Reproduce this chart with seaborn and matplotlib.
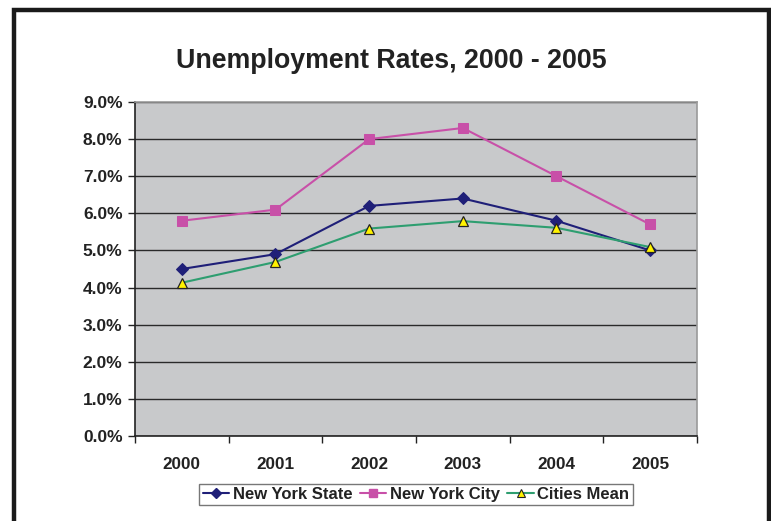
import matplotlib
matplotlib.use("Agg")
import matplotlib.pyplot as plt
import seaborn as sns
import pandas as pd
from matplotlib.patches import Rectangle
from matplotlib.lines import Line2D
from matplotlib.ticker import FixedLocator, PercentFormatter

years = ["2000", "2001", "2002", "2003", "2004", "2005"]
ny_state = [4.5, 4.9, 6.2, 6.4, 5.8, 5.0]
ny_city = [5.8, 6.1, 8.0, 8.3, 7.0, 5.7]
cities_mean = [4.13, 4.69, 5.59, 5.79, 5.61, 5.09]
series_names = ["New York State", "New York City", "Cities Mean"]

sns.set_theme(style="white")
plt.rcParams["font.family"] = ["Liberation Sans", "DejaVu Sans"]
plt.rcParams["font.weight"] = "bold"

rows = []
for name, vals in zip(series_names, [ny_state, ny_city, cities_mean]):
    for i, v in enumerate(vals):
        rows.append({"idx": i, "rate": v, "series": name})
df = pd.DataFrame(rows)

fig = plt.figure(figsize=(7.71, 5.21), dpi=100)
ax = fig.add_axes([135/771, 1-436/521, (697-135)/771, (436-102)/521])
ax.set_facecolor("#C8C9CB")

palette = {"New York State": "#1F1F78", "New York City": "#C850A8", "Cities Mean": "#2E9E70"}
markers = {"New York State": "D", "New York City": "s", "Cities Mean": "^"}

sns.lineplot(data=df, x="idx", y="rate", hue="series", style="series",
             palette=palette, markers=markers, dashes=False, ax=ax,
             linewidth=1.5, markersize=7, legend=False)

for line in ax.get_lines():
    m = line.get_marker()
    if m == "D":
        line.set_markersize(6)
        line.set_markerfacecolor("#1F1F78")
        line.set_markeredgecolor("#1F1F78")
    elif m == "s":
        line.set_markersize(7)
        line.set_markerfacecolor("#C850A8")
        line.set_markeredgecolor("#C850A8")
    elif m == "^":
        line.set_markersize(7)
        line.set_markerfacecolor("#FFF200")
        line.set_markeredgecolor("#222222")
        line.set_markeredgewidth(0.9)

ax.set_xlim(-0.5, 5.5)
ax.set_ylim(0, 9)
ax.set_yticks(range(0, 10))
ax.yaxis.set_major_formatter(PercentFormatter(decimals=1))
ax.yaxis.grid(True, color="#2a2a2a", linewidth=1.0)
ax.set_axisbelow(True)

ax.xaxis.set_major_locator(FixedLocator([i - 0.5 for i in range(7)]))
ax.xaxis.set_minor_locator(FixedLocator(list(range(6))))
ax.set_xticklabels([])
ax.set_xticklabels(years, minor=True)
ax.tick_params(axis="x", which="major", direction="out", length=5, width=1, color="#222222", bottom=True)
ax.tick_params(axis="x", which="minor", length=0, pad=15, labelsize=12.3, labelcolor="#222222")
ax.tick_params(axis="y", direction="out", length=5, width=1, color="#222222", left=True, pad=4,
               labelsize=12.5, labelcolor="#222222")
for lbl in ax.get_yticklabels() + ax.get_xticklabels(minor=True):
    lbl.set_fontweight("bold")

ax.set_xlabel("")
ax.set_ylabel("")
for s in ["left", "bottom"]:
    ax.spines[s].set_color("#222222")
    ax.spines[s].set_linewidth(1.2)
for s in ["top", "right"]:
    ax.spines[s].set_color("#9a9a9a")
    ax.spines[s].set_linewidth(1.2)

handles = [
    Line2D([], [], color="#1F1F78", marker="D", markersize=5, linewidth=1.5),
    Line2D([], [], color="#C850A8", marker="s", markersize=6, linewidth=1.5),
    Line2D([], [], color="#2E9E70", marker="^", markersize=6, markerfacecolor="#FFF200",
           markeredgecolor="#222222", markeredgewidth=0.8, linewidth=1.5),
]
leg = fig.legend(handles, series_names, loc="center", bbox_to_anchor=(416/771, 1-494.5/521),
                 ncol=3, frameon=True, fancybox=False, handlelength=1.6, handletextpad=0.2,
                 columnspacing=0.45, borderpad=0.2, prop={"weight": "bold", "size": 12})
leg.get_frame().set_edgecolor("#555555")
leg.get_frame().set_linewidth(1.0)
for t in leg.get_texts():
    t.set_color("#222222")

fig.text(391/771, 1-61/521, "Unemployment Rates, 2000 - 2005", ha="center", va="center",
         fontsize=19.3, fontweight="bold", color="#222222")

frame = Rectangle((13.5/771, -0.05), (769 - 13.5)/771, (1-10/521) + 0.05, transform=fig.transFigure,
                  fill=False, edgecolor="#1a1a1a", linewidth=3.2, clip_on=False)
fig.patches.append(frame)

fig.savefig("out.png", dpi=100)
